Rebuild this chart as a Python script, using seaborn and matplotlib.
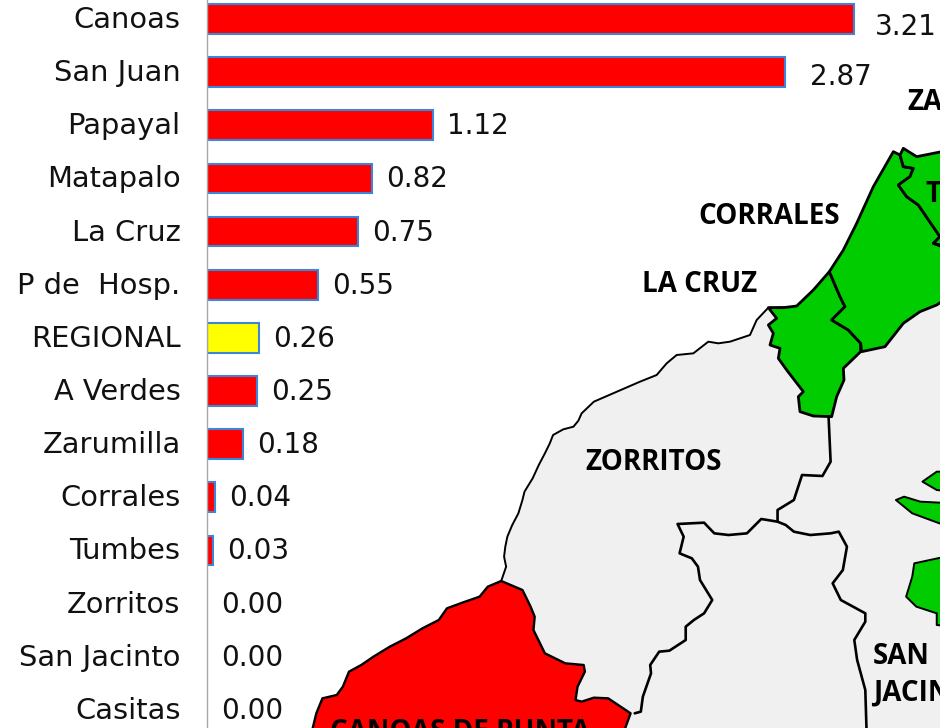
import matplotlib
matplotlib.use('Agg')
import matplotlib.pyplot as plt
from matplotlib.patches import Polygon
from matplotlib.transforms import ScaledTranslation
import pandas as pd
import seaborn as sns

names = ['Canoas', 'San Juan', 'Papayal', 'Matapalo', 'La Cruz', 'P de  Hosp.', 'REGIONAL',
         'A Verdes', 'Zarumilla', 'Corrales', 'Tumbes', 'Zorritos', 'San Jacinto', 'Casitas']
values = [3.21, 2.87, 1.12, 0.82, 0.75, 0.55, 0.26, 0.25, 0.18, 0.04, 0.03, 0.00, 0.00, 0.00]
highlight = 'REGIONAL'

# map outlines
coast_z2 = [(720, 5), (690, 40), (682, 62), (670, 80), (645, 88), (620, 105), (612, 130), (600, 160),
            (585, 195), (570, 235), (550, 275), (545, 300), (535, 340), (520, 375), (508, 410),
            (503, 440), (500, 470), (505, 500), (493, 543)]
coast_z1 = [(385, 683), (350, 720), (330, 765), (270, 785), (235, 790), (205, 785), (160, 820),
            (110, 825), (80, 850), (50, 885), (0, 905)]
red_west = [(493, 543), (460, 560), (440, 590), (400, 607), (360, 625), (340, 660), (300, 685),
            (260, 715), (220, 740), (180, 770), (150, 795), (120, 815), (105, 860), (90, 885),
            (55, 895), (40, 940), (30, 990)]
red_east = [(493, 543), (545, 570), (565, 620), (575, 650), (572, 690), (600, 760), (650, 790),
            (695, 795), (698, 815), (680, 860), (675, 900), (690, 905), (720, 893), (755, 895),
            (810, 940), (795, 990)]
line_a = [(820, 940), (835, 935), (840, 890), (860, 820), (858, 795), (880, 755), (905, 752),
          (945, 720), (945, 680), (965, 660), (990, 640), (1010, 600), (995, 570), (980, 540),
          (975, 500), (960, 475), (930, 460), (940, 410), (925, 372), (990, 368), (1015, 400),
          (1050, 405), (1095, 400), (1130, 357), (1170, 365), (1190, 375), (1210, 395),
          (1250, 405), (1300, 400), (1320, 395), (1340, 440), (1330, 510), (1305, 550),
          (1325, 600), (1385, 640), (1385, 665), (1358, 720), (1365, 780), (1385, 870), (1388, 990)]
line_b = [(1170, 365), (1170, 330), (1210, 300), (1230, 225), (1280, 228), (1300, 185), (1295, 50)]
la_cruz = [(385, 683), (430, 683), (470, 678), (520, 630), (568, 575), (600, 650), (615, 680),
           (575, 720), (625, 750), (662, 790), (662, 815), (610, 865), (612, 900), (590, 950),
           (575, 1010), (520, 1008), (480, 995), (475, 950), (490, 935), (440, 870), (415, 835),
           (420, 805), (390, 795), (400, 760), (385, 735), (410, 715)]
corrales = [(568, 575), (610, 510), (650, 430), (700, 320), (760, 215), (780, 225), (790, 260),
            (820, 265), (810, 290), (775, 315), (800, 350), (835, 375), (900, 470), (880, 490),
            (920, 505), (920, 655), (890, 675), (840, 695), (790, 730), (735, 800), (665, 815),
            (662, 790), (625, 750), (575, 720), (615, 680), (600, 650)]
tumbes = [(780, 225), (790, 205), (830, 230), (920, 212), (920, 500), (880, 490), (900, 470),
          (835, 375), (800, 350), (775, 315), (810, 290), (820, 265), (790, 260)]
blobs = [[(1525, 245), (1560, 215), (1600, 215), (1600, 275), (1560, 270)],
         [(1460, 300), (1480, 290), (1520, 305), (1600, 310), (1600, 385), (1500, 340)],
         [(1505, 490), (1600, 465), (1600, 680), (1560, 675), (1560, 640), (1510, 620), (1485, 590), (1500, 530)]]
map_labels = [('ZA', 907, 102), ('CORRALES', 698, 216), ('LA CRUZ', 642, 285), ('ZORRITOS', 585, 462),
              ('T', 925, 194), ('SAN', 873, 656), ('JACIN', 873, 693), ('CANOAS DE PUNTA', 330, 732)]


def z1(pts):
    return [(640 + x / 3, 80 + y / 3) for x, y in pts]


def z2(pts):
    return [(300 + x / 2.45, 400 + y / 3) for x, y in pts]


sns.set_theme(style='white')
plt.rcParams['font.family'] = ['DejaVu Sans']

fig = plt.figure(figsize=(9.4, 7.28), dpi=100)

# map goes underneath, in pixel coordinates
map_ax = fig.add_axes([0, 0, 1, 1], zorder=0)
map_ax.set_xlim(0, 940)
map_ax.set_ylim(728, 0)
map_ax.axis('off')

gray_pts = z1(coast_z1) + z2(coast_z2) + [(300, 760), (960, 760), (960, 302)]
map_ax.add_patch(Polygon(gray_pts, closed=True, fc='#f0f0f0', ec='black', lw=1.4, joinstyle='round'))
red_pts = z2(red_west)[::-1] + z2(red_east)[1:]
map_ax.add_patch(Polygon(red_pts, closed=True, fc='#ff0000', ec='black', lw=1.7, joinstyle='round'))
for shape in [la_cruz, corrales, tumbes]:
    map_ax.add_patch(Polygon(z1(shape), closed=True, fc='#00cc00', ec='black', lw=2, joinstyle='round'))
for shape in blobs:
    map_ax.add_patch(Polygon(z2(shape), closed=True, fc='#00cc00', ec='black', lw=1.4, joinstyle='round'))
for line in [line_a, line_b]:
    xs, ys = zip(*z2(line))
    map_ax.plot(xs, ys, color='black', lw=1.9, solid_joinstyle='round')

for label, x, y in map_labels:
    map_ax.text(x, y, label, fontsize=20, fontweight='bold', family='Open Sans',
                ha='left', va='center', color='black')

# bars on top, transparent background
ax = fig.add_axes([207 / 940, 0, 733 / 940, 1], zorder=1)
ax.patch.set_alpha(0)

df = pd.DataFrame({'name': names, 'value': values})
colors = {n: ('#ffff00' if n == highlight else '#ff0000') for n in names}
sns.barplot(data=df, x='value', y='name', hue='name', palette=colors, order=names, hue_order=names,
            width=0.56, saturation=1, legend=False, edgecolor='#3d85d8', linewidth=1.5, ax=ax)

ax.set_xlim(0, 733 / 201.5)
ax.set_ylim(13.34, -0.357)
ax.set_xlabel('')
ax.set_ylabel('')
ax.set_xticks([])
ax.tick_params(axis='y', length=0, pad=19, labelsize=20.8, labelcolor='#111111')
sns.despine(ax=ax, top=True, right=True, bottom=True)
ax.spines['left'].set_color('#a6a6a6')
ax.spines['left'].set_linewidth(1)

# tick labels sit a little higher than centre
up = ScaledTranslation(0, 2 / 100, fig.dpi_scale_trans)
for lbl in ax.get_yticklabels():
    lbl.set_transform(lbl.get_transform() + up)

for bar, v in zip([p for c in ax.containers for p in c], values):
    if v == 0:
        bar.set_visible(False)

# the first two labels were moved by hand in the original
nudge = {0: (21, 8), 1: (25, 5)}
for i, v in enumerate(values):
    dx, dy = nudge.get(i, (14, 1))
    ax.annotate(f'{v:.2f}', (v, i), xytext=(dx * 0.72, -dy * 0.72), textcoords='offset points',
                ha='left', va='center', fontsize=20, color='#111111')

fig.savefig('out.png', dpi=100)
